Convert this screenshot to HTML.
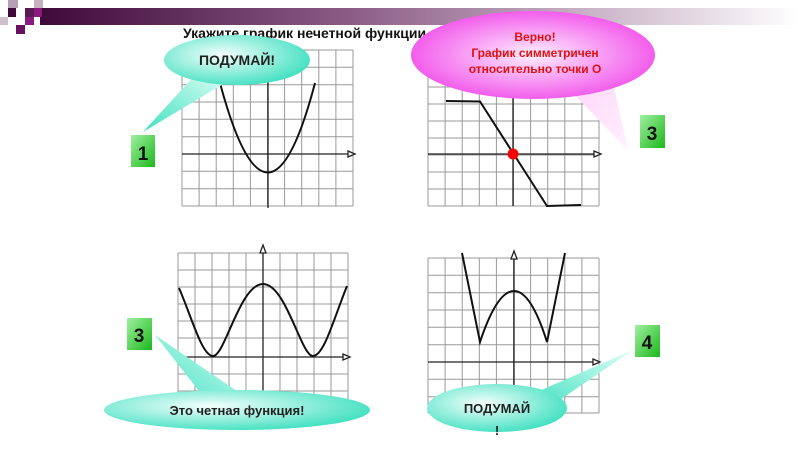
<!DOCTYPE html>
<html><head><meta charset="utf-8"><style>
html,body{margin:0;padding:0;background:#fff;}
svg{display:block;font-family:"Liberation Sans","DejaVu Sans",sans-serif;}
</style></head><body>
<svg width="800" height="450" viewBox="0 0 800 450" xmlns="http://www.w3.org/2000/svg">
<defs>
<linearGradient id="bar" x1="0" x2="1" y1="0" y2="0">
<stop offset="0" stop-color="#3e0a3a"/><stop offset="0.4" stop-color="#8a5a85"/><stop offset="1" stop-color="#ffffff"/>
</linearGradient>
<radialGradient id="cy" cx="0.4" cy="0.4" r="0.65"><stop offset="0" stop-color="#f4fffc"/><stop offset="1" stop-color="#3fe0c0"/></radialGradient>
<linearGradient id="cyt" x1="0" x2="1" y1="1" y2="0"><stop offset="0" stop-color="#3fe0c0"/><stop offset="1" stop-color="#dffff6"/></linearGradient>
<radialGradient id="mg" cx="0.5" cy="0.5" r="0.6"><stop offset="0" stop-color="#fff0ff"/><stop offset="1" stop-color="#f040e8"/></radialGradient>
<linearGradient id="mgt" x1="0" x2="1" y1="0" y2="1"><stop offset="0" stop-color="#ffd0fa"/><stop offset="1" stop-color="#fff0fe"/></linearGradient>
<linearGradient id="gr" x1="0" x2="1" y1="0" y2="1"><stop offset="0" stop-color="#a0f0a0"/><stop offset="1" stop-color="#1cb81c"/></linearGradient>
</defs>
<rect x="40" y="8" width="760" height="17" fill="url(#bar)"/>
<rect x="8" y="0" width="10" height="8" fill="#b8a0b4"/>
<rect x="34" y="0" width="9" height="8" fill="#c8b0c4"/>
<rect x="8" y="8" width="8" height="9" fill="#3e0a3a"/>
<rect x="25" y="8" width="9" height="9" fill="#5a1a52"/>
<rect x="34" y="8" width="8" height="9" fill="#8a1a80"/>
<rect x="0" y="17" width="8" height="8" fill="#d0c0cc"/>
<rect x="25" y="17" width="9" height="8" fill="#8a1a80"/>
<rect x="16" y="25" width="9" height="9" fill="#6a1060"/>
<text x="183" y="38" font-size="14" font-weight="bold" fill="#111">Укажите график нечетной функции</text>

<g stroke="#999" stroke-width="1" fill="none">
<path d="M182 50H353M182 67.3H353M182 84.7H353M182 102H353M182 119.3H353M182 136.7H353M182 154H353M182 171.3H353M182 188.7H353M182 206H353"/>
<path d="M182 50V206M199.1 50V206M216.2 50V206M233.3 50V206M250.4 50V206M267.5 50V206M284.6 50V206M301.7 50V206M318.8 50V206M335.9 50V206M353 50V206"/>
</g>
<g stroke="#222" stroke-width="1.3" fill="none">
<path d="M182 154H355M268 50V208"/><path d="M348 151L355 154L348 157Z" fill="#fff"/>
</g>
<path d="M220 83Q268 262 315 83" stroke="#111" stroke-width="2" fill="none"/>

<g stroke="#999" stroke-width="1" fill="none">
<path d="M428 53H599M428 70H599M428 87H599M428 104H599M428 121H599M428 138H599M428 155H599M428 172H599M428 189H599M428 206H599"/>
<path d="M428 53V206M445.1 53V206M462.2 53V206M479.3 53V206M496.4 53V206M513.5 53V206M530.6 53V206M547.7 53V206M564.8 53V206M581.9 53V206M599 53V206"/>
</g>
<g stroke="#222" stroke-width="1.3" fill="none">
<path d="M428 154H601M513 53V206"/><path d="M594 151L601 154L594 157Z" fill="#fff"/>
</g>
<path d="M446 101L480 101.5L547 206L581 205" stroke="#111" stroke-width="2" fill="none"/>
<circle cx="513" cy="154" r="5.5" fill="#f00"/>

<g stroke="#999" stroke-width="1" fill="none">
<path d="M178 253H348M178 270H348M178 287H348M178 304H348M178 321H348M178 338H348M178 357H348M178 374H348M178 391H348"/>
<path d="M178 253V400M195 253V400M212 253V400M229 253V400M246 253V400M263 253V400M280 253V400M297 253V400M314 253V400M331 253V400M348 253V400"/>
</g>
<g stroke="#222" stroke-width="1.3" fill="none">
<path d="M178 357H350M263 246V400"/><path d="M343 354L350 357L343 360Z" fill="#fff"/><path d="M260 253L263 245L266 253Z" fill="#fff"/>
</g>
<path d="M179 288C192 318 202 356 213 356C225 356 240 284 263 284C286 284 301 356 313 356C324 356 334 318 347 286" stroke="#111" stroke-width="2" fill="none"/>

<g stroke="#999" stroke-width="1" fill="none">
<path d="M428 258H599M428 275.3H599M428 292.7H599M428 310H599M428 327.3H599M428 344.7H599M428 362H599M428 379.3H599M428 396.7H599M428 413H599"/>
<path d="M428 258V413M445.1 258V413M462.2 258V413M479.3 258V413M496.4 258V413M513.5 258V413M530.6 258V413M547.7 258V413M564.8 258V413M581.9 258V413M599 258V413"/>
</g>
<g stroke="#222" stroke-width="1.3" fill="none">
<path d="M428 362H600M514 251V413"/><path d="M593 359L600 362L593 365Z" fill="#fff"/><path d="M511 259L514 251L517 259Z" fill="#fff"/>
</g>
<path d="M462 253L480 342Q497 291 514 291Q531 291 547 342L565 253" stroke="#111" stroke-width="2" fill="none"/>

<path d="M195 75L143 132L230 80Z" fill="url(#cyt)"/>
<ellipse cx="237" cy="60" rx="73" ry="25" fill="url(#cy)"/>
<text x="237" y="65" font-size="14" font-weight="bold" text-anchor="middle" fill="#222">ПОДУМАЙ!</text>
<rect x="131" y="135" width="24" height="32" fill="url(#gr)"/>
<text x="143" y="160" font-size="19" font-weight="bold" text-anchor="middle" fill="#111">1</text>

<path d="M560 80L628 150L610 70Z" fill="url(#mgt)"/>
<ellipse cx="533" cy="55" rx="122" ry="44" fill="url(#mg)"/>
<text x="535" y="41" font-size="12" font-weight="bold" text-anchor="middle" fill="#e01010">Верно!</text>
<text x="535" y="57" font-size="12" font-weight="bold" text-anchor="middle" fill="#e01010">График симметричен</text>
<text x="535" y="73" font-size="12" font-weight="bold" text-anchor="middle" fill="#e01010">относительно точки О</text>
<rect x="640" y="115" width="25" height="33" fill="url(#gr)"/>
<text x="652" y="140" font-size="19" font-weight="bold" text-anchor="middle" fill="#111">3</text>

<path d="M155 335L210 405L250 400Z" fill="url(#cyt)"/>
<ellipse cx="237" cy="410" rx="133" ry="20" fill="url(#cy)"/>
<text x="237" y="415" font-size="13" font-weight="bold" text-anchor="middle" fill="#222">Это четная функция!</text>
<rect x="127" y="318" width="25" height="32" fill="url(#gr)"/>
<text x="139" y="342" font-size="19" font-weight="bold" text-anchor="middle" fill="#111">3</text>

<path d="M633 350L530 395L545 410Z" fill="url(#cyt)"/>
<ellipse cx="497" cy="408" rx="70" ry="24" fill="url(#cy)"/>
<text x="497" y="413" font-size="13" font-weight="bold" text-anchor="middle" fill="#222">ПОДУМАЙ</text>
<text x="497" y="435" font-size="13" font-weight="bold" text-anchor="middle" fill="#222">!</text>
<rect x="635" y="325" width="25" height="32" fill="url(#gr)"/>
<text x="647" y="349" font-size="19" font-weight="bold" text-anchor="middle" fill="#111">4</text>
</svg>
</body></html>
